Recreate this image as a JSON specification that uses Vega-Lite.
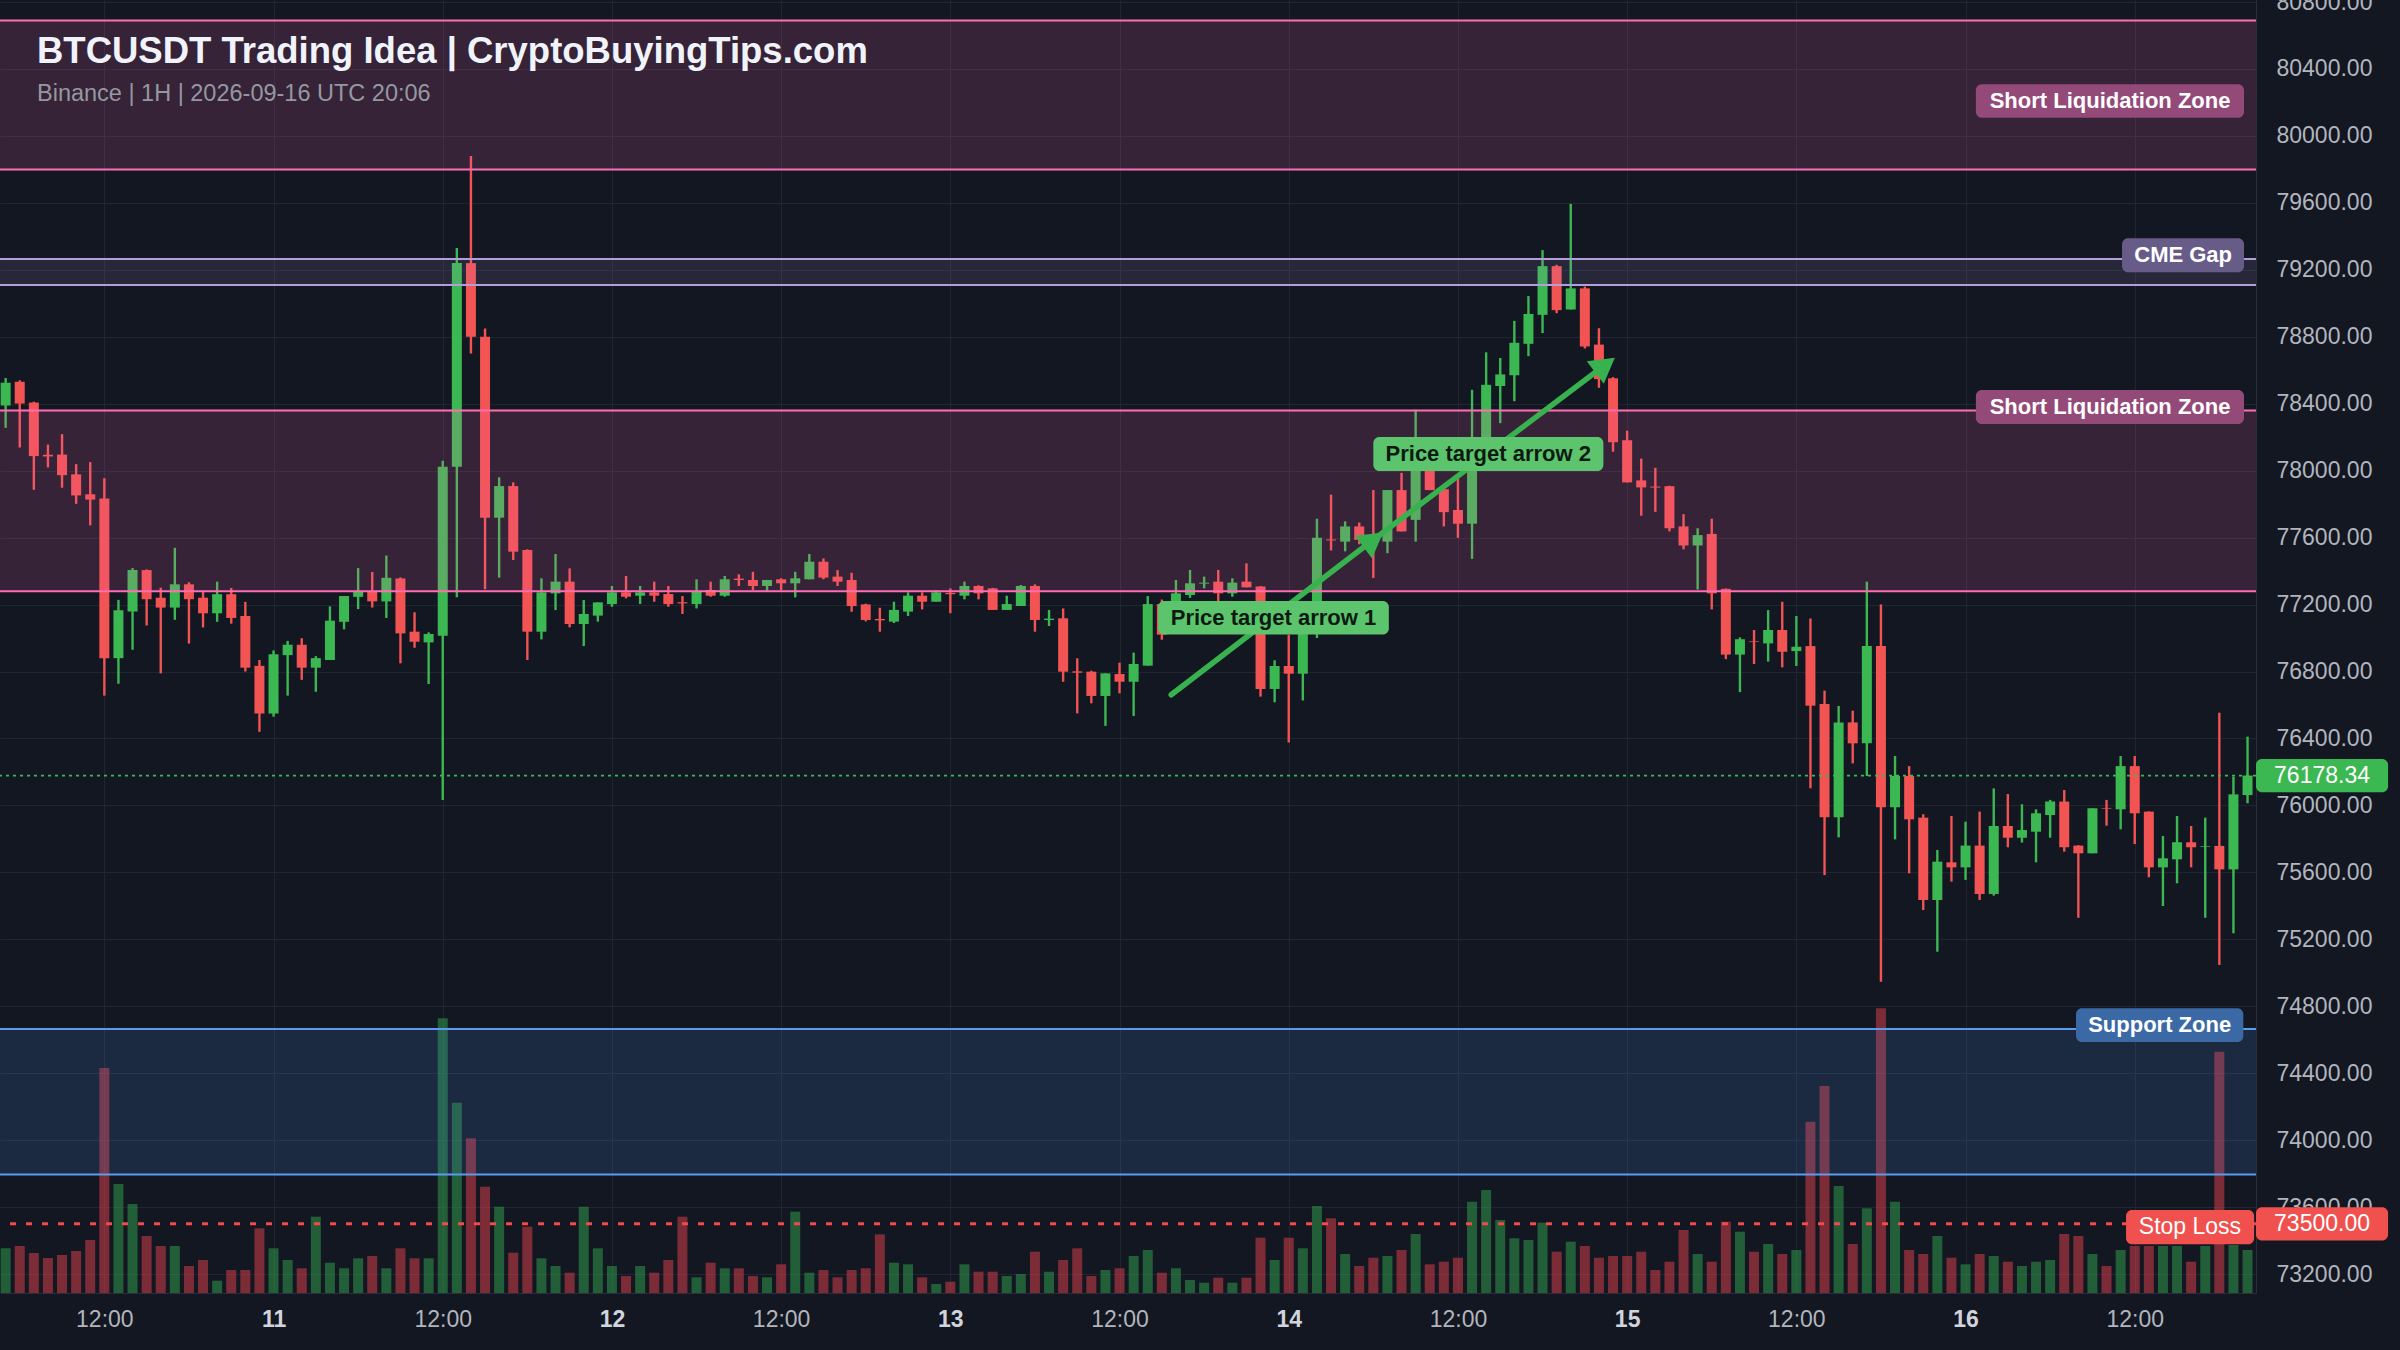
{
  "$schema": "https://vega.github.io/schema/vega-lite/v6.json",
  "width": 2256,
  "height": 1293,
  "autosize": {"type": "none"},
  "padding": {"left": 0, "top": 0, "right": 144, "bottom": 57},
  "background": "#131722",
  "config": {"view": {"stroke": null}, "font": "Liberation Sans", "axis": {"labelFont": "Liberation Sans"}},
  "title": {
    "text": "BTCUSDT Trading Idea | CryptoBuyingTips.com",
    "subtitle": "Binance | 1H | 2026-09-16 UTC 20:06",
    "anchor": "start", "frame": "group", "orient": "top", "baseline": "top",
    "offset": 0, "dx": 37, "dy": 114,
    "font": "Liberation Sans", "fontSize": 36.5, "fontWeight": "bold", "color": "#f0f3fa",
    "subtitleFont": "Liberation Sans", "subtitleFontSize": 23.5, "subtitleColor": "#9598a1", "subtitlePadding": 11
  },
  "datasets": {
    "candles": [
      {"time":"2026-09-10T05:00:00Z","open":78389,"high":78554,"low":78256,"close":78526,"volume":447},
      {"time":"2026-09-10T06:00:00Z","open":78531,"high":78540,"low":78138,"close":78401,"volume":470},
      {"time":"2026-09-10T07:00:00Z","open":78407,"high":78412,"low":77886,"close":78087,"volume":400},
      {"time":"2026-09-10T08:00:00Z","open":78095,"high":78156,"low":78019,"close":78085,"volume":350},
      {"time":"2026-09-10T09:00:00Z","open":78096,"high":78218,"low":77898,"close":77973,"volume":380},
      {"time":"2026-09-10T10:00:00Z","open":77978,"high":78039,"low":77802,"close":77852,"volume":420},
      {"time":"2026-09-10T11:00:00Z","open":77859,"high":78051,"low":77673,"close":77827,"volume":530},
      {"time":"2026-09-10T12:00:00Z","open":77833,"high":77955,"low":76656,"close":76880,"volume":2250},
      {"time":"2026-09-10T13:00:00Z","open":76880,"high":77228,"low":76727,"close":77166,"volume":1090},
      {"time":"2026-09-10T14:00:00Z","open":77159,"high":77418,"low":76930,"close":77406,"volume":890},
      {"time":"2026-09-10T15:00:00Z","open":77406,"high":77410,"low":77075,"close":77232,"volume":570},
      {"time":"2026-09-10T16:00:00Z","open":77241,"high":77301,"low":76789,"close":77182,"volume":470},
      {"time":"2026-09-10T17:00:00Z","open":77182,"high":77539,"low":77109,"close":77321,"volume":470},
      {"time":"2026-09-10T18:00:00Z","open":77321,"high":77333,"low":76967,"close":77232,"volume":270},
      {"time":"2026-09-10T19:00:00Z","open":77241,"high":77276,"low":77063,"close":77148,"volume":330},
      {"time":"2026-09-10T20:00:00Z","open":77148,"high":77337,"low":77097,"close":77262,"volume":123},
      {"time":"2026-09-10T21:00:00Z","open":77262,"high":77299,"low":77086,"close":77120,"volume":230},
      {"time":"2026-09-10T22:00:00Z","open":77132,"high":77216,"low":76800,"close":76823,"volume":230},
      {"time":"2026-09-10T23:00:00Z","open":76834,"high":76869,"low":76440,"close":76549,"volume":647},
      {"time":"2026-09-11T00:00:00Z","open":76549,"high":76926,"low":76530,"close":76903,"volume":447},
      {"time":"2026-09-11T01:00:00Z","open":76898,"high":76983,"low":76656,"close":76960,"volume":330},
      {"time":"2026-09-11T02:00:00Z","open":76960,"high":76999,"low":76750,"close":76823,"volume":247},
      {"time":"2026-09-11T03:00:00Z","open":76823,"high":76892,"low":76679,"close":76880,"volume":763},
      {"time":"2026-09-11T04:00:00Z","open":76869,"high":77189,"low":76869,"close":77104,"volume":303},
      {"time":"2026-09-11T05:00:00Z","open":77097,"high":77251,"low":77052,"close":77251,"volume":247},
      {"time":"2026-09-11T06:00:00Z","open":77246,"high":77418,"low":77173,"close":77280,"volume":347},
      {"time":"2026-09-11T07:00:00Z","open":77280,"high":77395,"low":77182,"close":77219,"volume":370},
      {"time":"2026-09-11T08:00:00Z","open":77219,"high":77493,"low":77120,"close":77360,"volume":247},
      {"time":"2026-09-11T09:00:00Z","open":77356,"high":77362,"low":76849,"close":77028,"volume":447},
      {"time":"2026-09-11T10:00:00Z","open":77038,"high":77154,"low":76942,"close":76978,"volume":347},
      {"time":"2026-09-11T11:00:00Z","open":76974,"high":77034,"low":76725,"close":77024,"volume":347},
      {"time":"2026-09-11T12:00:00Z","open":77014,"high":78060,"low":76033,"close":78024,"volume":2747},
      {"time":"2026-09-11T13:00:00Z","open":78024,"high":79331,"low":77243,"close":79240,"volume":1903},
      {"time":"2026-09-11T14:00:00Z","open":79240,"high":79880,"low":78700,"close":78800,"volume":1547},
      {"time":"2026-09-11T15:00:00Z","open":78800,"high":78850,"low":77291,"close":77719,"volume":1063},
      {"time":"2026-09-11T16:00:00Z","open":77719,"high":77960,"low":77361,"close":77908,"volume":863},
      {"time":"2026-09-11T17:00:00Z","open":77908,"high":77930,"low":77466,"close":77516,"volume":403},
      {"time":"2026-09-11T18:00:00Z","open":77526,"high":77530,"low":76869,"close":77038,"volume":663},
      {"time":"2026-09-11T19:00:00Z","open":77038,"high":77357,"low":76992,"close":77273,"volume":347},
      {"time":"2026-09-11T20:00:00Z","open":77267,"high":77502,"low":77167,"close":77337,"volume":270},
      {"time":"2026-09-11T21:00:00Z","open":77337,"high":77416,"low":77064,"close":77084,"volume":203},
      {"time":"2026-09-11T22:00:00Z","open":77084,"high":77227,"low":76952,"close":77144,"volume":863},
      {"time":"2026-09-11T23:00:00Z","open":77134,"high":77213,"low":77098,"close":77213,"volume":447},
      {"time":"2026-09-12T00:00:00Z","open":77203,"high":77311,"low":77187,"close":77273,"volume":270},
      {"time":"2026-09-12T01:00:00Z","open":77273,"high":77371,"low":77237,"close":77247,"volume":170},
      {"time":"2026-09-12T02:00:00Z","open":77253,"high":77311,"low":77203,"close":77273,"volume":270},
      {"time":"2026-09-12T03:00:00Z","open":77273,"high":77337,"low":77217,"close":77253,"volume":203},
      {"time":"2026-09-12T04:00:00Z","open":77263,"high":77311,"low":77187,"close":77203,"volume":330},
      {"time":"2026-09-12T05:00:00Z","open":77214,"high":77251,"low":77144,"close":77207,"volume":763},
      {"time":"2026-09-12T06:00:00Z","open":77203,"high":77351,"low":77177,"close":77277,"volume":157},
      {"time":"2026-09-12T07:00:00Z","open":77287,"high":77337,"low":77247,"close":77253,"volume":303},
      {"time":"2026-09-12T08:00:00Z","open":77253,"high":77371,"low":77247,"close":77351,"volume":247},
      {"time":"2026-09-12T09:00:00Z","open":77355,"high":77381,"low":77311,"close":77347,"volume":247},
      {"time":"2026-09-12T10:00:00Z","open":77347,"high":77396,"low":77287,"close":77311,"volume":170},
      {"time":"2026-09-12T11:00:00Z","open":77311,"high":77347,"low":77277,"close":77347,"volume":157},
      {"time":"2026-09-12T12:00:00Z","open":77351,"high":77357,"low":77287,"close":77327,"volume":287},
      {"time":"2026-09-12T13:00:00Z","open":77327,"high":77396,"low":77243,"close":77357,"volume":813},
      {"time":"2026-09-12T14:00:00Z","open":77351,"high":77502,"low":77351,"close":77456,"volume":203},
      {"time":"2026-09-12T15:00:00Z","open":77456,"high":77476,"low":77351,"close":77361,"volume":230},
      {"time":"2026-09-12T16:00:00Z","open":77367,"high":77406,"low":77311,"close":77337,"volume":157},
      {"time":"2026-09-12T17:00:00Z","open":77347,"high":77390,"low":77157,"close":77191,"volume":230},
      {"time":"2026-09-12T18:00:00Z","open":77201,"high":77205,"low":77100,"close":77108,"volume":247},
      {"time":"2026-09-12T19:00:00Z","open":77114,"high":77181,"low":77038,"close":77106,"volume":587},
      {"time":"2026-09-12T20:00:00Z","open":77098,"high":77217,"low":77090,"close":77168,"volume":303},
      {"time":"2026-09-12T21:00:00Z","open":77158,"high":77273,"low":77132,"close":77253,"volume":287},
      {"time":"2026-09-12T22:00:00Z","open":77253,"high":77273,"low":77171,"close":77217,"volume":157},
      {"time":"2026-09-12T23:00:00Z","open":77217,"high":77287,"low":77217,"close":77273,"volume":90},
      {"time":"2026-09-13T00:00:00Z","open":77270,"high":77297,"low":77148,"close":77262,"volume":113},
      {"time":"2026-09-13T01:00:00Z","open":77253,"high":77337,"low":77231,"close":77311,"volume":287},
      {"time":"2026-09-13T02:00:00Z","open":77311,"high":77315,"low":77231,"close":77267,"volume":213},
      {"time":"2026-09-13T03:00:00Z","open":77297,"high":77300,"low":77168,"close":77168,"volume":213},
      {"time":"2026-09-13T04:00:00Z","open":77168,"high":77253,"low":77168,"close":77203,"volume":170},
      {"time":"2026-09-13T05:00:00Z","open":77191,"high":77317,"low":77191,"close":77311,"volume":190},
      {"time":"2026-09-13T06:00:00Z","open":77311,"high":77321,"low":77038,"close":77108,"volume":413},
      {"time":"2026-09-13T07:00:00Z","open":77108,"high":77168,"low":77072,"close":77116,"volume":213},
      {"time":"2026-09-13T08:00:00Z","open":77118,"high":77177,"low":76739,"close":76799,"volume":330},
      {"time":"2026-09-13T09:00:00Z","open":76801,"high":76879,"low":76550,"close":76793,"volume":447},
      {"time":"2026-09-13T10:00:00Z","open":76799,"high":76805,"low":76610,"close":76654,"volume":170},
      {"time":"2026-09-13T11:00:00Z","open":76654,"high":76789,"low":76475,"close":76789,"volume":230},
      {"time":"2026-09-13T12:00:00Z","open":76785,"high":76853,"low":76670,"close":76739,"volume":247},
      {"time":"2026-09-13T13:00:00Z","open":76739,"high":76913,"low":76534,"close":76845,"volume":370},
      {"time":"2026-09-13T14:00:00Z","open":76835,"high":77251,"low":76835,"close":77203,"volume":430},
      {"time":"2026-09-13T15:00:00Z","open":77203,"high":77230,"low":76990,"close":77020,"volume":203},
      {"time":"2026-09-13T16:00:00Z","open":77217,"high":77347,"low":77100,"close":77267,"volume":247},
      {"time":"2026-09-13T17:00:00Z","open":77257,"high":77407,"low":77240,"close":77327,"volume":130},
      {"time":"2026-09-13T18:00:00Z","open":77325,"high":77367,"low":77297,"close":77331,"volume":103},
      {"time":"2026-09-13T19:00:00Z","open":77337,"high":77407,"low":77217,"close":77267,"volume":153},
      {"time":"2026-09-13T20:00:00Z","open":77267,"high":77357,"low":77247,"close":77331,"volume":103},
      {"time":"2026-09-13T21:00:00Z","open":77337,"high":77446,"low":77303,"close":77303,"volume":153},
      {"time":"2026-09-13T22:00:00Z","open":77308,"high":77310,"low":76650,"close":76696,"volume":553},
      {"time":"2026-09-13T23:00:00Z","open":76696,"high":76867,"low":76616,"close":76833,"volume":330},
      {"time":"2026-09-14T00:00:00Z","open":76833,"high":77020,"low":76376,"close":76787,"volume":553},
      {"time":"2026-09-14T01:00:00Z","open":76787,"high":77080,"low":76627,"close":77050,"volume":447},
      {"time":"2026-09-14T02:00:00Z","open":77050,"high":77713,"low":77000,"close":77599,"volume":870},
      {"time":"2026-09-14T03:00:00Z","open":77589,"high":77857,"low":77523,"close":77583,"volume":747},
      {"time":"2026-09-14T04:00:00Z","open":77576,"high":77697,"low":77518,"close":77667,"volume":390},
      {"time":"2026-09-14T05:00:00Z","open":77667,"high":77690,"low":77560,"close":77587,"volume":270},
      {"time":"2026-09-14T06:00:00Z","open":77610,"high":77884,"low":77359,"close":77590,"volume":353},
      {"time":"2026-09-14T07:00:00Z","open":77576,"high":77884,"low":77507,"close":77884,"volume":370},
      {"time":"2026-09-14T08:00:00Z","open":77884,"high":77987,"low":77637,"close":77637,"volume":430},
      {"time":"2026-09-14T09:00:00Z","open":77706,"high":78364,"low":77576,"close":78067,"volume":590},
      {"time":"2026-09-14T10:00:00Z","open":77999,"high":78067,"low":77884,"close":77884,"volume":287},
      {"time":"2026-09-14T11:00:00Z","open":77889,"high":77892,"low":77667,"close":77752,"volume":313},
      {"time":"2026-09-14T12:00:00Z","open":77765,"high":77953,"low":77599,"close":77683,"volume":353},
      {"time":"2026-09-14T13:00:00Z","open":77683,"high":78483,"low":77473,"close":78056,"volume":913},
      {"time":"2026-09-14T14:00:00Z","open":78050,"high":78707,"low":78000,"close":78513,"volume":1030},
      {"time":"2026-09-14T15:00:00Z","open":78506,"high":78673,"low":78284,"close":78575,"volume":730},
      {"time":"2026-09-14T16:00:00Z","open":78570,"high":78895,"low":78415,"close":78764,"volume":547},
      {"time":"2026-09-14T17:00:00Z","open":78758,"high":79043,"low":78684,"close":78936,"volume":530},
      {"time":"2026-09-14T18:00:00Z","open":78931,"high":79318,"low":78822,"close":79222,"volume":703},
      {"time":"2026-09-14T19:00:00Z","open":79222,"high":79230,"low":78941,"close":78959,"volume":413},
      {"time":"2026-09-14T20:00:00Z","open":78963,"high":79594,"low":78963,"close":79089,"volume":513},
      {"time":"2026-09-14T21:00:00Z","open":79089,"high":79100,"low":78730,"close":78742,"volume":470},
      {"time":"2026-09-14T22:00:00Z","open":78753,"high":78851,"low":78495,"close":78547,"volume":353},
      {"time":"2026-09-14T23:00:00Z","open":78552,"high":78559,"low":78113,"close":78170,"volume":370},
      {"time":"2026-09-15T00:00:00Z","open":78182,"high":78239,"low":77930,"close":77930,"volume":370},
      {"time":"2026-09-15T01:00:00Z","open":77942,"high":78072,"low":77731,"close":77900,"volume":413},
      {"time":"2026-09-15T02:00:00Z","open":77905,"high":78017,"low":77754,"close":77899,"volume":230},
      {"time":"2026-09-15T03:00:00Z","open":77907,"high":77910,"low":77637,"close":77656,"volume":313},
      {"time":"2026-09-15T04:00:00Z","open":77667,"high":77740,"low":77530,"close":77553,"volume":630},
      {"time":"2026-09-15T05:00:00Z","open":77553,"high":77656,"low":77290,"close":77615,"volume":390},
      {"time":"2026-09-15T06:00:00Z","open":77622,"high":77713,"low":77171,"close":77267,"volume":313},
      {"time":"2026-09-15T07:00:00Z","open":77294,"high":77296,"low":76874,"close":76901,"volume":713},
      {"time":"2026-09-15T08:00:00Z","open":76901,"high":77004,"low":76677,"close":76993,"volume":613},
      {"time":"2026-09-15T09:00:00Z","open":76980,"high":77048,"low":76845,"close":76976,"volume":413},
      {"time":"2026-09-15T10:00:00Z","open":76968,"high":77167,"low":76859,"close":77048,"volume":490},
      {"time":"2026-09-15T11:00:00Z","open":77048,"high":77217,"low":76825,"close":76918,"volume":390},
      {"time":"2026-09-15T12:00:00Z","open":76922,"high":77132,"low":76833,"close":76948,"volume":430},
      {"time":"2026-09-15T13:00:00Z","open":76952,"high":77117,"low":76102,"close":76596,"volume":1713},
      {"time":"2026-09-15T14:00:00Z","open":76606,"high":76686,"low":75584,"close":75929,"volume":2070},
      {"time":"2026-09-15T15:00:00Z","open":75929,"high":76594,"low":75809,"close":76496,"volume":1070},
      {"time":"2026-09-15T16:00:00Z","open":76496,"high":76566,"low":76251,"close":76371,"volume":490},
      {"time":"2026-09-15T17:00:00Z","open":76371,"high":77337,"low":76176,"close":76952,"volume":847},
      {"time":"2026-09-15T18:00:00Z","open":76952,"high":77201,"low":74947,"close":75989,"volume":2847},
      {"time":"2026-09-15T19:00:00Z","open":75989,"high":76295,"low":75797,"close":76176,"volume":913},
      {"time":"2026-09-15T20:00:00Z","open":76176,"high":76235,"low":75594,"close":75917,"volume":430},
      {"time":"2026-09-15T21:00:00Z","open":75927,"high":75947,"low":75375,"close":75435,"volume":390},
      {"time":"2026-09-15T22:00:00Z","open":75435,"high":75734,"low":75126,"close":75664,"volume":570},
      {"time":"2026-09-15T23:00:00Z","open":75660,"high":75937,"low":75545,"close":75630,"volume":353},
      {"time":"2026-09-16T00:00:00Z","open":75630,"high":75903,"low":75555,"close":75760,"volume":287},
      {"time":"2026-09-16T01:00:00Z","open":75760,"high":75963,"low":75435,"close":75471,"volume":390},
      {"time":"2026-09-16T02:00:00Z","open":75471,"high":76102,"low":75461,"close":75877,"volume":370},
      {"time":"2026-09-16T03:00:00Z","open":75877,"high":76068,"low":75750,"close":75807,"volume":313},
      {"time":"2026-09-16T04:00:00Z","open":75807,"high":76007,"low":75778,"close":75853,"volume":270},
      {"time":"2026-09-16T05:00:00Z","open":75843,"high":75977,"low":75660,"close":75953,"volume":313},
      {"time":"2026-09-16T06:00:00Z","open":75943,"high":76033,"low":75807,"close":76023,"volume":330},
      {"time":"2026-09-16T07:00:00Z","open":76023,"high":76092,"low":75724,"close":75750,"volume":590},
      {"time":"2026-09-16T08:00:00Z","open":75760,"high":75762,"low":75329,"close":75714,"volume":570},
      {"time":"2026-09-16T09:00:00Z","open":75714,"high":75983,"low":75714,"close":75983,"volume":390},
      {"time":"2026-09-16T10:00:00Z","open":75985,"high":76033,"low":75879,"close":75981,"volume":270},
      {"time":"2026-09-16T11:00:00Z","open":75977,"high":76295,"low":75857,"close":76235,"volume":430},
      {"time":"2026-09-16T12:00:00Z","open":76235,"high":76295,"low":75769,"close":75953,"volume":470},
      {"time":"2026-09-16T13:00:00Z","open":75963,"high":75965,"low":75571,"close":75630,"volume":470},
      {"time":"2026-09-16T14:00:00Z","open":75630,"high":75817,"low":75399,"close":75684,"volume":470},
      {"time":"2026-09-16T15:00:00Z","open":75678,"high":75937,"low":75535,"close":75780,"volume":470},
      {"time":"2026-09-16T16:00:00Z","open":75780,"high":75877,"low":75630,"close":75750,"volume":313},
      {"time":"2026-09-16T17:00:00Z","open":75752,"high":75927,"low":75329,"close":75756,"volume":470},
      {"time":"2026-09-16T18:00:00Z","open":75758,"high":76554,"low":75047,"close":75618,"volume":2413},
      {"time":"2026-09-16T19:00:00Z","open":75618,"high":76172,"low":75236,"close":76066,"volume":480},
      {"time":"2026-09-16T20:00:00Z","open":76062,"high":76411,"low":76013,"close":76178.34,"volume":430}
    ],
    "zones": [
      {"zone":"Short Liquidation Zone (upper)","kind":"short_liq","low":79800,"high":80690},
      {"zone":"CME Gap","kind":"cme","low":79110,"high":79265},
      {"zone":"Short Liquidation Zone (lower)","kind":"short_liq","low":77280,"high":78360},
      {"zone":"Support Zone","kind":"support","low":73795,"high":74665}
    ],
    "levels": [
      {"level":"Last price","price":76178.34},
      {"level":"Stop Loss","price":73500}
    ],
    "arrows": [
      {"arrow":"Price target arrow 1","seq":0,"time":"2026-09-13T15:40:00Z","price":76661,"tip":false},
      {"arrow":"Price target arrow 1","seq":1,"time":"2026-09-14T06:00:00Z","price":77587,"tip":true},
      {"arrow":"Price target arrow 2","seq":0,"time":"2026-09-14T06:00:00Z","price":77587,"tip":false},
      {"arrow":"Price target arrow 2","seq":1,"time":"2026-09-14T22:26:00Z","price":78631,"tip":true}
    ],
    "badges": [
      {"label":"Short Liquidation Zone","kind":"short_liq","start":"2026-09-16T00:44:00Z","end":"2026-09-16T19:45:00Z","at":"2026-09-16T10:15:00Z","low":80108,"high":80308,"level":80208},
      {"label":"CME Gap","kind":"cme","start":"2026-09-16T11:06:00Z","end":"2026-09-16T19:45:00Z","at":"2026-09-16T15:26:00Z","low":79186,"high":79389,"level":79288},
      {"label":"Short Liquidation Zone","kind":"short_liq","start":"2026-09-16T00:44:00Z","end":"2026-09-16T19:45:00Z","at":"2026-09-16T10:15:00Z","low":78279,"high":78482,"level":78380},
      {"label":"Support Zone","kind":"support","start":"2026-09-16T07:50:00Z","end":"2026-09-16T19:42:00Z","at":"2026-09-16T13:46:00Z","low":74587,"high":74788,"level":74687},
      {"label":"Stop Loss","kind":"stop","start":"2026-09-16T11:23:00Z","end":"2026-09-16T20:28:00Z","at":"2026-09-16T15:55:00Z","low":73378,"high":73583,"level":73480},
      {"label":"76178.34","kind":"last","start":"2026-09-16T20:36:00Z","end":"2026-09-17T05:58:00Z","at":"2026-09-17T01:17:00Z","low":76078,"high":76278,"level":76178},
      {"label":"73500.00","kind":"sl_tag","start":"2026-09-16T20:36:00Z","end":"2026-09-17T05:58:00Z","at":"2026-09-17T01:17:00Z","low":73400,"high":73600,"level":73500},
      {"label":"Price target arrow 1","kind":"target","start":"2026-09-13T14:44:00Z","end":"2026-09-14T07:06:00Z","at":"2026-09-13T22:55:00Z","low":77021,"high":77221,"level":77121},
      {"label":"Price target arrow 2","kind":"target","start":"2026-09-14T06:00:00Z","end":"2026-09-14T22:19:00Z","at":"2026-09-14T14:09:00Z","low":77998,"high":78201,"level":78100}
    ]
  },
  "layer": [
    {
      "data": {"name": "candles"},
      "mark": {"type": "bar", "size": 10},
      "encoding": {
        "x": {
          "field": "time", "type": "temporal", "title": null,
          "scale": {"type": "utc", "nice": false, "padding": 0, "domain": [{"year":2026,"month":9,"date":10,"hours":4,"minutes":36,"utc":true},{"year":2026,"month":9,"date":16,"hours":20,"minutes":36,"utc":true}]},
          "axis": {
            "values": [
              {"year":2026,"month":9,"date":10,"hours":12,"utc":true},
              {"year":2026,"month":9,"date":11,"hours":0,"utc":true},
              {"year":2026,"month":9,"date":11,"hours":12,"utc":true},
              {"year":2026,"month":9,"date":12,"hours":0,"utc":true},
              {"year":2026,"month":9,"date":12,"hours":12,"utc":true},
              {"year":2026,"month":9,"date":13,"hours":0,"utc":true},
              {"year":2026,"month":9,"date":13,"hours":12,"utc":true},
              {"year":2026,"month":9,"date":14,"hours":0,"utc":true},
              {"year":2026,"month":9,"date":14,"hours":12,"utc":true},
              {"year":2026,"month":9,"date":15,"hours":0,"utc":true},
              {"year":2026,"month":9,"date":15,"hours":12,"utc":true},
              {"year":2026,"month":9,"date":16,"hours":0,"utc":true},
              {"year":2026,"month":9,"date":16,"hours":12,"utc":true}
            ],
            "labelExpr": "utchours(datum.value) == 0 ? '' + utcdate(datum.value) : '12:00'",
            "labelFontWeight": {"condition": {"test": "utchours(datum.value) == 0", "value": "bold"}, "value": "normal"},
            "labelColor": {"condition": {"test": "utchours(datum.value) == 0", "value": "#d1d4dc"}, "value": "#b2b5bd"},
            "labelFontSize": 23, "labelPadding": 15, "labelFlush": false, "labelOverlap": false,
            "ticks": false, "grid": true, "gridColor": "#212532", "gridWidth": 1,
            "domain": true, "domainColor": "#2a2e39"
          }
        },
        "y": {"field": "volume", "type": "quantitative", "title": null, "scale": {"domain": [0, 12930], "nice": false, "padding": 0}, "axis": null},
        "color": {"condition": {"test": "datum.close >= datum.open", "value": "rgba(50,165,75,0.5)"}, "value": "rgba(230,65,75,0.5)"}
      }
    },
    {
      "layer": [
        {
          "data": {"name": "candles"},
          "mark": {"type": "rule", "strokeWidth": 2.4},
          "encoding": {
            "x": {"field": "time", "type": "temporal", "title": null},
            "y": {
              "field": "low", "type": "quantitative", "title": null,
              "scale": {"domain": [73087, 80812], "nice": false, "zero": false, "padding": 0},
              "axis": {
                "orient": "right",
                "values": [73200,73600,74000,74400,74800,75200,75600,76000,76400,76800,77200,77600,78000,78400,78800,79200,79600,80000,80400,80800],
                "format": ".2f", "labelAlign": "left", "labelPadding": 20, "labelFontSize": 23, "labelColor": "#b2b5bd",
                "labelOverlap": false, "labelFlush": false, "labelBound": false,
                "ticks": false, "grid": true, "gridColor": "#212532", "gridWidth": 1,
                "domain": true, "domainColor": "#2a2e39"
              }
            },
            "y2": {"field": "high"},
            "color": {"condition": {"test": "datum.close >= datum.open", "value": "#3cb853"}, "value": "#f25353"}
          }
        },
        {
          "data": {"name": "candles"},
          "mark": {"type": "bar", "size": 10},
          "encoding": {
            "x": {"field": "time", "type": "temporal", "title": null},
            "y": {"field": "open", "type": "quantitative", "title": null},
            "y2": {"field": "close"},
            "color": {"condition": {"test": "datum.close >= datum.open", "value": "#3cb853"}, "value": "#f25353"}
          }
        },
        {
          "data": {"name": "zones"},
          "mark": {"type": "rect"},
          "encoding": {
            "y": {"field": "low", "type": "quantitative", "title": null},
            "y2": {"field": "high"},
            "fill": {"field": "kind", "type": "nominal", "legend": null,
              "scale": {"domain": ["short_liq", "cme", "support"], "range": ["rgba(255,105,180,0.15)", "rgba(179,157,219,0.12)", "rgba(74,144,226,0.16)"]}}
          }
        },
        {
          "data": {"name": "zones"},
          "mark": {"type": "rule", "strokeWidth": 2},
          "encoding": {
            "y": {"field": "low", "type": "quantitative", "title": null},
            "stroke": {"field": "kind", "type": "nominal", "legend": null,
              "scale": {"domain": ["short_liq", "cme", "support"], "range": ["#ff6eb4", "#b39ddb", "#5b9cf0"]}}
          }
        },
        {
          "data": {"name": "zones"},
          "mark": {"type": "rule", "strokeWidth": 2},
          "encoding": {
            "y": {"field": "high", "type": "quantitative", "title": null},
            "stroke": {"field": "kind", "type": "nominal", "legend": null}
          }
        },
        {
          "data": {"name": "levels"},
          "transform": [{"filter": "datum.level == 'Last price'"}],
          "mark": {"type": "rule", "strokeWidth": 1.6, "strokeDash": [3, 4], "color": "#3cb853"},
          "encoding": {"y": {"field": "price", "type": "quantitative", "title": null}}
        },
        {
          "data": {"name": "levels"},
          "transform": [{"filter": "datum.level == 'Stop Loss'"}],
          "mark": {"type": "rule", "strokeWidth": 3, "strokeDash": [6, 10], "color": "#f44a4a"},
          "encoding": {"y": {"field": "price", "type": "quantitative", "title": null}}
        },
        {
          "data": {"name": "arrows"},
          "mark": {"type": "line", "strokeWidth": 5.5, "strokeCap": "round", "color": "#38b24e"},
          "encoding": {
            "x": {"field": "time", "type": "temporal", "title": null},
            "y": {"field": "price", "type": "quantitative", "title": null},
            "detail": {"field": "arrow", "type": "nominal"},
            "order": {"field": "seq", "type": "quantitative"}
          }
        },
        {
          "data": {"name": "arrows"},
          "transform": [{"filter": "datum.tip"}],
          "mark": {"type": "point", "shape": "triangle-right", "filled": true, "size": 800, "angle": -37, "color": "#38b24e", "opacity": 1},
          "encoding": {
            "x": {"field": "time", "type": "temporal", "title": null},
            "y": {"field": "price", "type": "quantitative", "title": null}
          }
        },
        {
          "data": {"name": "badges"},
          "mark": {"type": "rect", "cornerRadius": 6},
          "encoding": {
            "x": {"field": "start", "type": "temporal", "title": null},
            "x2": {"field": "end"},
            "y": {"field": "low", "type": "quantitative", "title": null},
            "y2": {"field": "high"},
            "color": {"field": "kind", "type": "nominal", "legend": null,
              "scale": {"domain": ["short_liq", "cme", "support", "stop", "last", "sl_tag", "target"],
                        "range": ["#934a78", "#675c88", "#3b69a5", "#f0514e", "#3cb853", "#f0514e", "#5cc46c"]}}
          }
        },
        {
          "data": {"name": "badges"},
          "transform": [{"filter": "indexof(['short_liq','cme','support','target'], datum.kind) >= 0"}],
          "mark": {"type": "text", "font": "Liberation Sans", "fontSize": 22, "fontWeight": "bold", "align": "center", "baseline": "middle"},
          "encoding": {
            "x": {"field": "at", "type": "temporal", "title": null},
            "y": {"field": "level", "type": "quantitative", "title": null},
            "text": {"field": "label"},
            "color": {"condition": {"test": "datum.kind == 'target'", "value": "#0d1a12"}, "value": "#ffffff"}
          }
        },
        {
          "data": {"name": "badges"},
          "transform": [{"filter": "indexof(['stop','last','sl_tag'], datum.kind) >= 0"}],
          "mark": {"type": "text", "font": "Liberation Sans", "fontSize": 23, "align": "center", "baseline": "middle", "color": "#ffffff"},
          "encoding": {
            "x": {"field": "at", "type": "temporal", "title": null},
            "y": {"field": "level", "type": "quantitative", "title": null},
            "text": {"field": "label"}
          }
        }
      ]
    }
  ],
  "resolve": {"scale": {"y": "independent"}}
}
